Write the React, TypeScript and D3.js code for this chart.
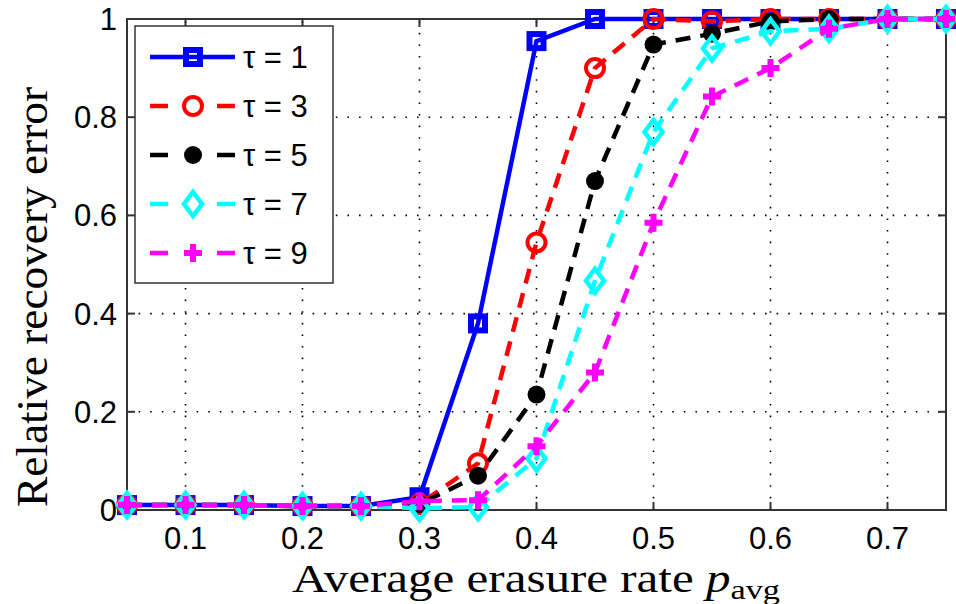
import React, { useEffect, useRef } from "react";
import * as d3 from "d3";

// erasure rate values (x)
const rates = [0.05, 0.1, 0.15, 0.2, 0.25, 0.3, 0.35, 0.4, 0.45, 0.5, 0.55, 0.6, 0.65, 0.7, 0.75];

const tau1 = [0.01, 0.01, 0.01, 0.008, 0.008, 0.026, 0.38, 0.955, 1, 1, 1, 1, 1, 1, 1];
const tau3 = [0.01, 0.01, 0.01, 0.008, 0.008, 0.012, 0.095, 0.545, 0.9, 1, 0.995, 1, 1, 1, 1];
const tau5 = [0.01, 0.01, 0.01, 0.008, 0.008, 0.012, 0.07, 0.235, 0.67, 0.948, 0.97, 0.995, 1, 1, 1];
const tau7 = [0.01, 0.01, 0.01, 0.008, 0.008, 0.004, 0.006, 0.105, 0.467, 0.77, 0.94, 0.975, 0.98, 1, 1];
const tau9 = [0.01, 0.01, 0.01, 0.008, 0.008, 0.018, 0.02, 0.13, 0.28, 0.585, 0.842, 0.9, 0.98, 1, 1];

const seriesNames = ["τ = 1", "τ = 3", "τ = 5", "τ = 7", "τ = 9"];
const xTicks = [0.1, 0.2, 0.3, 0.4, 0.5, 0.6, 0.7];
const yTicks = [0, 0.2, 0.4, 0.6, 0.8, 1];

const styles = [
  { color: "#0000ff", dash: null, marker: "square" },
  { color: "#ff0000", dash: "15,10", marker: "circle" },
  { color: "#000000", dash: "15,10", marker: "dot" },
  { color: "#00ffff", dash: "15,10", marker: "diamond" },
  { color: "#ff00ff", dash: "15,10", marker: "plus" },
];

const drawMarker = (g, type, color, cx, cy) => {
  if (type === "square") {
    g.append("rect")
      .attr("x", cx - 7).attr("y", cy - 7)
      .attr("width", 14).attr("height", 14)
      .attr("fill", "none").attr("stroke", color).attr("stroke-width", 6);
  } else if (type === "circle") {
    g.append("circle")
      .attr("cx", cx).attr("cy", cy).attr("r", 9)
      .attr("fill", "none").attr("stroke", color).attr("stroke-width", 4);
  } else if (type === "dot") {
    g.append("circle")
      .attr("cx", cx).attr("cy", cy).attr("r", 9)
      .attr("fill", color);
  } else if (type === "diamond") {
    g.append("path")
      .attr("d", `M${cx},${cy - 12}L${cx + 9},${cy}L${cx},${cy + 12}L${cx - 9},${cy}Z`)
      .attr("fill", "none").attr("stroke", color).attr("stroke-width", 4.5);
  } else {
    g.append("path")
      .attr("d", `M${cx - 9},${cy}H${cx + 9}M${cx},${cy - 9}V${cy + 9}`)
      .attr("stroke", color).attr("stroke-width", 6);
  }
};

const App = () => {
  const ref = useRef(null);

  useEffect(() => {
    const svg = d3.select(ref.current);
    svg.selectAll("*").remove();

    const left = 127, right = 946, top = 19, bottom = 510;
    const x = d3.scaleLinear().domain([0.05, 0.75]).range([left, right]);
    const y = d3.scaleLinear().domain([0, 1]).range([bottom, top]);

    svg.append("rect").attr("width", 956).attr("height", 604).attr("fill", "white");

    // grid
    const grid = svg.append("g").attr("stroke", "#000").attr("stroke-width", 1.6)
      .attr("stroke-dasharray", "1.6,10");
    xTicks.forEach((t) => {
      grid.append("line").attr("x1", x(t)).attr("x2", x(t)).attr("y1", bottom).attr("y2", top);
    });
    yTicks.slice(1, -1).forEach((t) => {
      grid.append("line").attr("x1", left).attr("x2", right).attr("y1", y(t)).attr("y2", y(t));
    });

    // frame and inward ticks
    const frame = svg.append("g").attr("stroke", "#333").attr("stroke-width", 2);
    frame.append("rect").attr("x", left).attr("y", top)
      .attr("width", right - left).attr("height", bottom - top).attr("fill", "none");
    xTicks.forEach((t) => {
      frame.append("line").attr("x1", x(t)).attr("x2", x(t)).attr("y1", bottom).attr("y2", bottom - 8);
      frame.append("line").attr("x1", x(t)).attr("x2", x(t)).attr("y1", top).attr("y2", top + 8);
    });
    yTicks.forEach((t) => {
      frame.append("line").attr("x1", left).attr("x2", left + 8).attr("y1", y(t)).attr("y2", y(t));
      frame.append("line").attr("x1", right).attr("x2", right - 8).attr("y1", y(t)).attr("y2", y(t));
    });

    // tick labels
    const tickFont = "'Liberation Sans', Arial, sans-serif";
    xTicks.forEach((t) => {
      svg.append("text").attr("x", x(t)).attr("y", 549)
        .attr("text-anchor", "middle").attr("font-family", tickFont).attr("font-size", 31)
        .text(d3.format(".1f")(t));
    });
    yTicks.forEach((t) => {
      svg.append("text").attr("x", 117).attr("y", y(t) + 11)
        .attr("text-anchor", "end").attr("font-family", tickFont).attr("font-size", 31)
        .text(t === 0 || t === 1 ? String(t) : d3.format(".1f")(t));
    });

    // axis titles
    const serif = "'Liberation Serif', 'Times New Roman', serif";
    const xl = svg.append("text").attr("x", 292).attr("y", 592)
      .attr("font-family", serif).attr("font-size", 40)
      .attr("textLength", 488).attr("lengthAdjust", "spacingAndGlyphs");
    xl.append("tspan").text("Average erasure rate ");
    xl.append("tspan").attr("font-style", "italic").text("p");
    xl.append("tspan").attr("font-size", 28).attr("dy", 7).text("avg");

    svg.append("text")
      .attr("transform", "translate(47,297) rotate(-90)")
      .attr("text-anchor", "middle").attr("font-family", serif).attr("font-size", 44)
      .attr("textLength", 420).attr("lengthAdjust", "spacingAndGlyphs")
      .text("Relative recovery error");

    // series
    const allSeries = [tau1, tau3, tau5, tau7, tau9];
    const line = d3.line().x((d) => x(d[0])).y((d) => y(d[1]));
    const plot = svg.append("g");
    allSeries.forEach((vals, i) => {
      const st = styles[i];
      const pts = rates.map((r, k) => [r, vals[k]]);
      plot.append("path").attr("d", line(pts)).attr("fill", "none")
        .attr("stroke", st.color).attr("stroke-width", 4.5)
        .attr("stroke-dasharray", st.dash);
      pts.forEach((p) => drawMarker(plot, st.marker, st.color, x(p[0]), y(p[1])));
    });

    // legend
    const lg = svg.append("g");
    lg.append("rect").attr("x", 135).attr("y", 26).attr("width", 198).attr("height", 257)
      .attr("fill", "white").attr("stroke", "#333").attr("stroke-width", 1.5);
    seriesNames.forEach((name, i) => {
      const st = styles[i];
      const ly = 57 + i * 49;
      lg.append("line").attr("x1", 150).attr("x2", 235).attr("y1", ly).attr("y2", ly)
        .attr("stroke", st.color).attr("stroke-width", 4.5)
        .attr("stroke-dasharray", st.dash ? "18,49,18" : null);
      drawMarker(lg, st.marker, st.color, 193, ly);
      lg.append("text").attr("x", 243).attr("y", ly + 11)
        .attr("font-family", tickFont).attr("font-size", 31).text(name);
    });
  }, []);

  return (
    <svg ref={ref} width={956} height={604}
      style={{ position: "absolute", left: 0, top: 0 }} />
  );
};

export default App;
